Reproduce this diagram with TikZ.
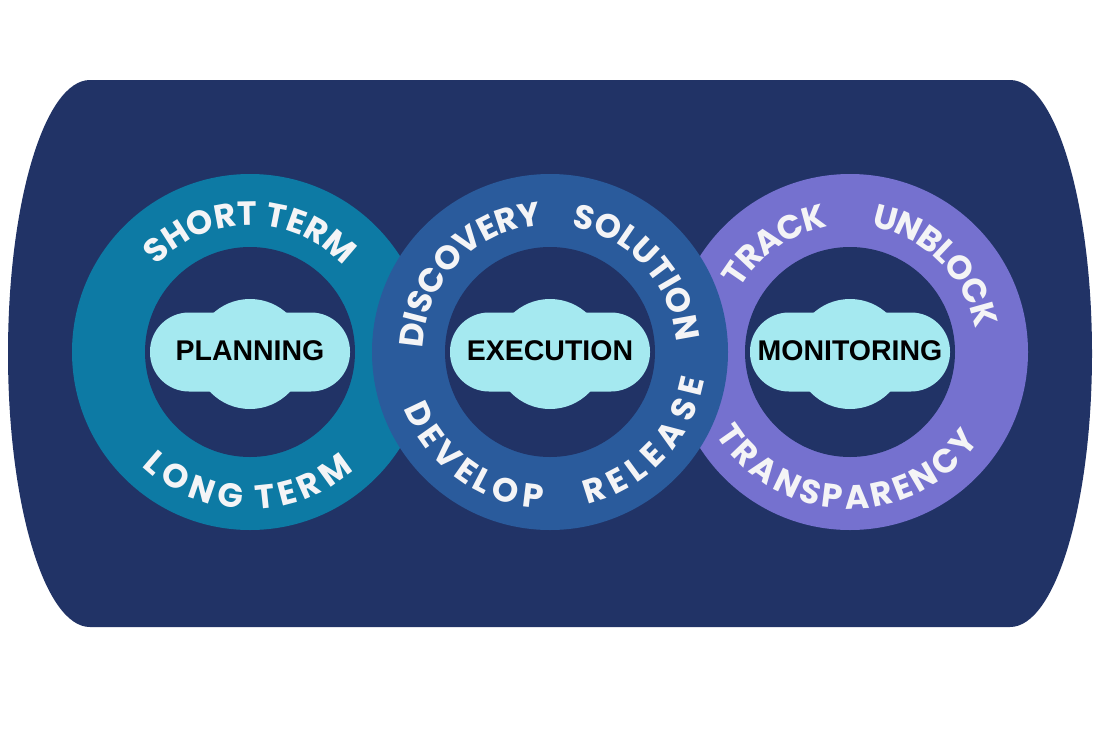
\documentclass[tikz,border=0pt]{standalone}
\usepackage{fontspec}
\setmainfont{Liberation Sans}
\newfontfamily\ringfam{Poppins}
\usetikzlibrary{decorations.text}
\definecolor{navy}{HTML}{213366}
\definecolor{ringA}{HTML}{0D7AA4}
\definecolor{ringB}{HTML}{2A5B9C}
\definecolor{ringC}{HTML}{7571CF}
\definecolor{cloudc}{HTML}{A5E9F0}
\definecolor{ringtxt}{HTML}{F4F4F6}
\newcommand{\ringfont}{\ringfam\bfseries\fontsize{33.5}{33.5}\selectfont}
\newcommand{\labelfont}{\bfseries\fontsize{28.5}{28.5}\selectfont}
% #1 centre, #2 mid angle, #3 half span, #4 text
\newcommand{\ringtop}[4]{\path[ringtxtstyle={#4}] ([shift={(#2+#3:127)}]#1) arc[start angle=#2+#3, end angle=#2-#3, radius=127];}
\newcommand{\ringbot}[4]{\path[ringtxtstyle={#4}] ([shift={(#2-#3:157)}]#1) arc[start angle=#2-#3, end angle=#2+#3, radius=157];}
\newcommand{\cloudat}[1]{%
  \fill[cloudc, rounded corners=39pt] ([shift={(-100,-39.5)}]#1) rectangle ([shift={(100,39.5)}]#1);
  \fill[cloudc] ([shift={(0,-2)}]#1) circle[radius=55];}
\begin{document}
\begin{tikzpicture}[x=1pt,y=1pt,
  ringdisk/.style={circle,inner sep=0pt,minimum size=356pt},
  holedisk/.style={circle,inner sep=0pt,minimum size=210pt,fill=navy},
  lbl/.style={font=\labelfont,text=black,inner sep=0pt},
  ringtxtstyle/.style={decorate,decoration={text effects along path,text={#1},
     text effects/.cd, fit text to path,
     characters={text=ringtxt,font=\ringfont}, text along path}}
]
\useasboundingbox (0,0) rectangle (1101,-734);
\fill[white] (0,0) rectangle (1101,-734);
% background barrel
\fill[navy] (90,-80) -- (1010,-80)
  arc[start angle=90, end angle=-90, x radius=82, y radius=273.5]
  -- (90,-627)
  arc[start angle=270, end angle=90, x radius=82, y radius=273.5] -- cycle;
\coordinate (cL) at (250,-352);
\coordinate (cM) at (550,-352);
\coordinate (cR) at (850,-352);
% rings
\node[ringdisk,fill=ringA] (ringL) at (cL) {};
\node[holedisk] (holeL) at (cL) {};
\node[ringdisk,fill=ringC] (ringR) at (cR) {};
\node[holedisk] (holeR) at (cR) {};
\node[ringdisk,fill=ringB] (ringM) at (cM) {};
\node[holedisk] (holeM) at (cM) {};
% clouds
\cloudat{cL}
\cloudat{cM}
\cloudat{cR}
\node[lbl] (planning) at ([shift={(0,1)}]cL) {PLANNING};
\node[lbl] (execution) at ([shift={(0,1)}]cM) {EXECUTION};
\node[lbl] (monitoring) at ([shift={(0,1)}]cR) {MONITORING};
% ring texts
\ringtop{cL}{90}{47.5}{SHORT TERM}
\ringbot{cL}{269}{42.5}{LONG TERM}
\ringtop{cM}{136}{42.5}{DISCOVERY}
\ringtop{cM}{42.5}{38}{SOLUTION}
\ringbot{cM}{234}{33}{DEVELOP}
\ringbot{cM}{316.7}{33}{RELEASE}
\ringtop{cR}{125}{25}{TRACK}
\ringtop{cR}{45.5}{35}{UNBLOCK}
\ringbot{cR}{268.5}{57}{TRANSPARENCY}
\end{tikzpicture}
\end{document}
